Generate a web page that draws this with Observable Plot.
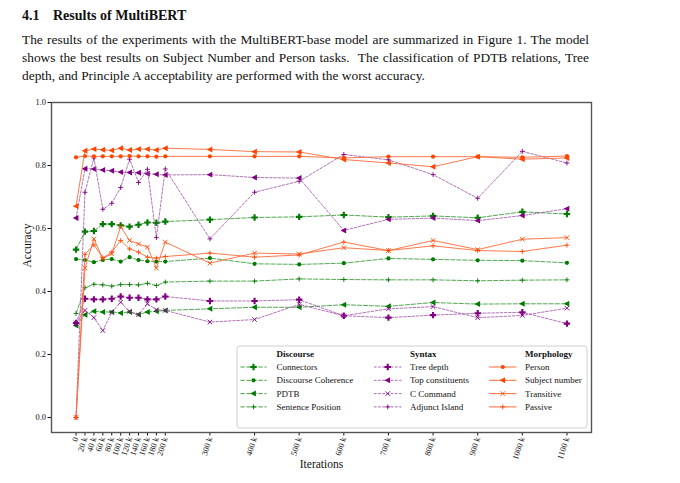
<!DOCTYPE html>
<html>
<head>
<meta charset="utf-8">
<script src="https://cdn.jsdelivr.net/npm/d3@7"></script>
<script src="https://cdn.jsdelivr.net/npm/@observablehq/plot@0.6"></script>
<style>
  html, body { margin: 0; padding: 0; background: #fff; }
  body { width: 680px; height: 483px; position: relative; overflow: hidden; font-family: "Liberation Serif", "DejaVu Serif", serif; color: #111; }
  #hdr { position: absolute; left: 22px; top: 8px; font-weight: bold; font-size: 14px; white-space: nowrap; }
  #hdr .num { display: inline-block; width: 31px; }
  #para { position: absolute; left: 22px; top: 31px; width: 567px; font-size: 13.4px; line-height: 18px; }
  #para .j { text-align: justify; text-align-last: justify; white-space: nowrap; }
  #chart { position: absolute; left: 0; top: 90px; }
</style>
</head>
<body>
<div id="hdr"><span class="num">4.1</span>Results of MultiBERT</div>
<div id="para">
  <div class="j">The results of the experiments with the MultiBERT-base model are summarized in Figure 1. The model</div>
  <div class="j">shows the best results on Subject Number and Person tasks.&nbsp; The classification of PDTB relations, Tree</div>
  <div>depth, and Principle A acceptability are performed with the worst accuracy.</div>
</div>
<div id="chart"></div>
<script>
// ---------------- data ----------------
const iterations = [0, 20000, 40000, 60000, 80000, 100000, 120000, 140000, 160000, 180000, 200000,
  300000, 400000, 500000, 600000, 700000, 800000, 900000, 1000000, 1100000];
const xTickLabels = ["0", "20 k", "40 k", "60 k", "80 k", "100 k", "120 k", "140 k", "160 k", "180 k", "200 k",
  "300 k", "400 k", "500 k", "600 k", "700 k", "800 k", "900 k", "1000 k", "1100 k"];
const yTickValues = [0, 0.2, 0.4, 0.6, 0.8, 1.0];
const yTickLabels = ["0.0", "0.2", "0.4", "0.6", "0.8", "1.0"];

const groupNames = ["Discourse", "Syntax", "Morphology"];
const discourseNames = ["Connectors", "Discourse Coherence", "PDTB", "Sentence Position"];
const syntaxNames = ["Tree depth", "Top constituents", "C Command", "Adjunct Island"];
const morphologyNames = ["Person", "Subject number", "Transitive", "Passive"];

const connectors         = [0.533, 0.590, 0.592, 0.614, 0.614, 0.610, 0.606, 0.612, 0.619, 0.618, 0.622, 0.628, 0.635, 0.637, 0.643, 0.636, 0.640, 0.634, 0.653, 0.646];
const discourseCoherence = [0.503, 0.500, 0.493, 0.500, 0.503, 0.495, 0.509, 0.500, 0.496, 0.495, 0.495, 0.506, 0.488, 0.486, 0.490, 0.505, 0.502, 0.499, 0.498, 0.491];
const pdtb               = [0.292, 0.326, 0.337, 0.335, 0.335, 0.332, 0.335, 0.327, 0.335, 0.337, 0.340, 0.345, 0.350, 0.350, 0.358, 0.353, 0.365, 0.360, 0.361, 0.361];
const sentencePosition   = [0.330, 0.412, 0.423, 0.421, 0.417, 0.422, 0.422, 0.421, 0.426, 0.419, 0.430, 0.433, 0.433, 0.440, 0.438, 0.437, 0.437, 0.434, 0.436, 0.437];

const treeDepth          = [0.300, 0.377, 0.375, 0.375, 0.377, 0.384, 0.380, 0.380, 0.375, 0.375, 0.384, 0.370, 0.370, 0.374, 0.323, 0.317, 0.325, 0.331, 0.334, 0.298];
const topConstituents    = [0.633, 0.790, 0.789, 0.786, 0.783, 0.779, 0.778, 0.777, 0.774, 0.772, 0.770, 0.771, 0.762, 0.760, 0.594, 0.629, 0.633, 0.625, 0.641, 0.663];
const cCommand           = [0.300, 0.340, 0.317, 0.276, 0.334, 0.366, 0.337, 0.326, 0.361, 0.342, 0.340, 0.303, 0.311, 0.359, 0.323, 0.345, 0.352, 0.317, 0.324, 0.347];
const adjunctIsland      = [0.000, 0.715, 0.824, 0.661, 0.680, 0.730, 0.820, 0.746, 0.788, 0.571, 0.789, 0.567, 0.715, 0.750, 0.835, 0.818, 0.771, 0.696, 0.845, 0.808];

const person             = [0.826, 0.830, 0.829, 0.829, 0.829, 0.829, 0.830, 0.829, 0.829, 0.828, 0.829, 0.829, 0.829, 0.829, 0.824, 0.828, 0.828, 0.828, 0.826, 0.830];
const subjectNumber      = [0.671, 0.847, 0.852, 0.850, 0.848, 0.855, 0.849, 0.852, 0.852, 0.849, 0.855, 0.851, 0.844, 0.843, 0.819, 0.808, 0.796, 0.828, 0.820, 0.824];
const transitive         = [0.000, 0.474, 0.567, 0.504, 0.520, 0.606, 0.562, 0.551, 0.541, 0.474, 0.557, 0.490, 0.522, 0.519, 0.539, 0.530, 0.562, 0.533, 0.566, 0.571];
const passive            = [0.000, 0.518, 0.548, 0.507, 0.525, 0.562, 0.535, 0.525, 0.509, 0.506, 0.511, 0.522, 0.509, 0.516, 0.557, 0.530, 0.545, 0.530, 0.527, 0.547];

// ---------------- styles ----------------
const triangleLeft = {
  draw(context, size) {
    const s = Math.sqrt(size) * 0.78;
    context.moveTo(-s, 0);
    context.lineTo(s * 0.72, -s * 0.9);
    context.lineTo(s * 0.72, s * 0.9);
    context.closePath();
  }
};
const groups = [
  { name: groupNames[0], names: discourseNames, values: [connectors, discourseCoherence, pdtb, sentencePosition],
    color: "#007a00", lineColor: "#3f9f3f", dash: "4.2,1.8", lw: 1.0,
    symbols: ["cross", "circle", triangleLeft, "plus"] },
  { name: groupNames[1], names: syntaxNames, values: [treeDepth, topConstituents, cCommand, adjunctIsland],
    color: "#800080", lineColor: "#a052a8", dash: "2.6,1.6", lw: 0.9,
    symbols: ["cross", triangleLeft, "times", "plus"] },
  { name: groupNames[2], names: morphologyNames, values: [person, subjectNumber, transitive, passive],
    color: "#ff4500", lineColor: "#ff6a38", dash: null, lw: 1.0,
    symbols: ["circle", triangleLeft, "times", "plus"] }
];
const symR = s => (s === "circle" ? 2.1 : s === "cross" ? 2.7 : s === triangleLeft ? 2.4 : s === "times" ? 2.2 : 1.7);
const isStrokeSym = s => s === "plus" || s === "times";

// long table
const rows = [];
groups.forEach(g => g.names.forEach((n, i) => g.values[i].forEach((v, k) => rows.push({ series: n, iteration: iterations[k], value: v }))));

const marks = [];
groups.forEach(g => g.names.forEach((n, i) => {
  const data = rows.filter(d => d.series === n);
  marks.push(Plot.line(data, { x: "iteration", y: "value", stroke: g.lineColor, strokeWidth: g.lw,
    strokeDasharray: g.dash || undefined, strokeOpacity: 0.9 }));
  const s = g.symbols[i];
  marks.push(Plot.dot(data, isStrokeSym(s)
    ? { x: "iteration", y: "value", symbol: s, r: symR(s), stroke: g.color, strokeWidth: 0.9, fill: "none" }
    : { x: "iteration", y: "value", symbol: s, r: symR(s), fill: g.color, stroke: "none" }));
}));

const chart = Plot.plot({
  width: 680, height: 393,
  marginTop: 12, marginBottom: 51, marginLeft: 51, marginRight: 89,
  style: { fontFamily: "'Liberation Serif', serif", fontSize: "8.4px", color: "#111", background: "white", overflow: "visible" },
  x: { type: "linear", domain: [-55000, 1155000], ticks: iterations,
       tickFormat: d => xTickLabels[iterations.indexOf(d)], tickRotate: -72, tickSize: 3.5, tickPadding: 1.5, label: null },
  y: { domain: [-0.0476, 1.0], ticks: yTickValues,
       tickFormat: d => yTickLabels[yTickValues.indexOf(d)], tickSize: 3.5, tickPadding: 2, label: null },
  marks: [
    ...marks,
    Plot.frame({ stroke: "#555", strokeWidth: 1.4 }),
    Plot.text(["Iterations"], { frameAnchor: "bottom", dy: 35, fontSize: 11.5, fill: "#111" }),
    Plot.text(["Accuracy"], { frameAnchor: "left", dx: -24, rotate: -90, fontSize: 11.5, fill: "#111" })
  ]
});
document.getElementById("chart").appendChild(chart);

// ---------------- legend (inside plot, lower right) ----------------
const svg = d3.select(chart);
const lg = svg.append("g").attr("font-family", "'Liberation Serif', serif").attr("font-size", 9)
  .attr("fill", "#111").attr("text-anchor", "start");
lg.append("rect").attr("x", 237).attr("y", 256).attr("width", 350).attr("height", 82).attr("rx", 3)
  .attr("fill", "white").attr("fill-opacity", 0.85).attr("stroke", "#d0d0d0").attr("stroke-width", 1);
const colX = [[240.5, 266.5, 276.5], [374, 401.5, 410], [489, 516.5, 525]];
const rowY = [277, 290.3, 303.6, 316.9];
const d3sym = s => s === "circle" ? d3.symbolCircle : s === "cross" ? d3.symbolCross : s === "plus" ? d3.symbolPlus : s === "times" ? d3.symbolTimes : triangleLeft;
groups.forEach((g, gi) => {
  const [x0, x1, tx] = colX[gi];
  lg.append("text").attr("x", tx).attr("y", 267).attr("font-weight", "bold").text(g.name);
  g.names.forEach((n, i) => {
    const y = rowY[i];
    lg.append("line").attr("x1", x0).attr("x2", x1).attr("y1", y).attr("y2", y)
      .attr("stroke", g.lineColor).attr("stroke-width", g.lw).attr("stroke-dasharray", g.dash || null);
    const s = g.symbols[i], r = symR(s);
    const p = lg.append("path").attr("transform", `translate(${(x0 + x1) / 2},${y})`)
      .attr("d", d3.symbol(d3sym(s), Math.PI * r * r)());
    if (isStrokeSym(s)) p.attr("fill", "none").attr("stroke", g.color).attr("stroke-width", 0.9);
    else p.attr("fill", g.color);
    lg.append("text").attr("x", tx).attr("y", y + 3).text(n);
  });
});
</script>
</body>
</html>
